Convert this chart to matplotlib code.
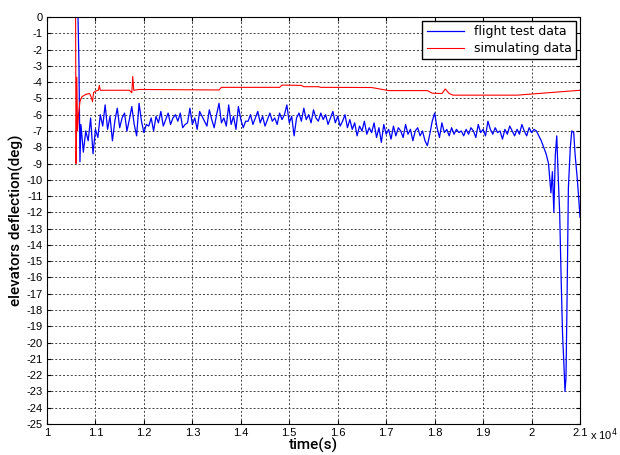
import matplotlib
matplotlib.use('Agg')
import matplotlib.pyplot as plt
import numpy as np
from matplotlib.ticker import FuncFormatter

plt.rcParams['axes.unicode_minus'] = False

# flight test data (blue): onset, regular 50 s samples, final dive
blue_t_start = [10640, 10660, 10680]
blue_v_start = [0.0, -3.0, -8.9]

blue_t_mid = np.arange(10700, 20301, 50)
blue_v_mid = [
    -6.6, -8.3, -7.0, -7.6, -6.2, -8.4, -6.9, -7.4, -6.0, -6.7, -5.4, -6.9, -6.1, -7.6, -6.4, -5.6, -6.8, -6.2, -5.9, -7.0,
    -6.3, -5.5, -6.6, -7.3, -5.3, -6.4, -7.1, -6.6, -6.7, -6.2, -7.0, -6.1, -6.5, -5.8, -6.7, -6.3, -5.9, -6.6, -6.2, -6.0,
    -6.4, -5.9, -6.8, -6.6, -6.5, -5.6, -6.6, -6.2, -6.9, -5.8, -6.1, -6.4, -6.7, -5.7, -6.3, -6.8, -6.0, -5.3, -6.5, -6.2,
    -6.7, -5.4, -6.6, -6.1, -6.9, -5.5, -6.3, -6.8, -6.4, -6.4, -6.0, -6.6, -6.2, -5.8, -6.5, -6.1, -6.7, -6.3, -5.9, -6.4,
    -6.2, -6.6, -5.9, -6.3, -6.0, -5.4, -6.5, -6.1, -7.3, -6.2, -5.9, -6.4, -5.6, -6.3, -6.0, -6.5, -5.7, -6.2, -6.4, -5.9,
    -6.3, -6.0, -6.6, -6.2, -5.8, -6.5, -6.1, -6.7, -6.4, -6.0, -6.8, -6.3, -6.9, -6.5, -7.3, -6.7, -7.0, -6.4, -7.2, -6.8,
    -7.1, -6.5, -7.4, -6.8, -7.7, -6.6, -7.2, -6.9, -7.5, -6.7, -7.3, -6.8, -7.0, -7.4, -6.6, -7.2, -6.9, -7.6, -7.0, -6.8,
    -7.3, -7.0, -7.6, -7.9, -7.2, -6.4, -5.9, -6.8, -7.4, -6.5, -7.1, -6.9, -7.3, -6.8, -7.2, -6.9, -7.1, -7.0, -7.3, -6.9,
    -7.2, -6.8, -7.0, -7.4, -6.6, -7.1, -6.9, -7.3, -6.4, -6.9, -7.2, -6.8, -7.1, -7.0, -7.5, -6.9, -7.2, -6.7, -7.0, -7.3,
    -6.9, -7.2, -6.6, -7.0, -7.3, -6.8, -7.1, -6.9, -7.0, -7.3, -7.6, -8.0, -8.4,
]

blue_t_end = [20350, 20400, 20430, 20460, 20490, 20520, 20550, 20580, 20610, 20640, 20670,
              20690, 20710, 20730, 20760, 20800, 20830, 20870, 20900, 20940, 20970, 21000]
blue_v_end = [-9.0, -10.8, -9.5, -12.0, -8.5, -7.3, -9.8, -12.0, -16.0, -19.5, -21.5,
              -23.0, -22.2, -18.0, -10.5, -8.0, -7.0, -7.1, -8.5, -9.8, -11.0, -12.3]

# simulating data (red)
red_t = [10000, 10590, 10600, 10615, 10630, 10650, 10680, 10720, 10800, 10880, 10910, 10940,
         10960, 11000, 11060, 11080, 11100, 11700, 11750, 11770, 11790, 11900, 13550, 13600,
         14800, 14850, 15250, 15300, 15600, 15650, 16700, 17050, 17850, 17950, 18150, 18220,
         18300, 18380, 19700, 21000]
red_v = [0.0, 0.0, -9.0, -3.7, -7.0, -6.0, -5.2, -4.9, -4.75, -4.7, -4.9, -5.2,
         -4.65, -4.55, -4.5, -4.2, -4.5, -4.5, -4.65, -3.65, -4.5, -4.45, -4.48, -4.32,
         -4.32, -4.18, -4.2, -4.28, -4.28, -4.32, -4.33, -4.52, -4.52, -4.68, -4.7, -4.42,
         -4.7, -4.8, -4.8, -4.5]

blue_t = np.concatenate([blue_t_start, blue_t_mid, blue_t_end])
blue_v = np.concatenate([blue_v_start, blue_v_mid, blue_v_end])

fig = plt.figure(figsize=(6.2, 4.55), dpi=100)
ax = fig.add_axes([0.0758, 0.0681, 0.8597, 0.8945])

ax.plot(blue_t, blue_v, color='#0000ff', lw=0.9, label='flight test data')
ax.plot(red_t, red_v, color='#ff0000', lw=0.8, label='simulating data')

ax.set_xlim(10000, 21000)
ax.set_ylim(-25, 0)
ax.set_xticks(np.arange(10000, 21001, 1000))
ax.set_yticks(np.arange(-25, 1, 1))
ax.xaxis.set_major_formatter(FuncFormatter(lambda v, p: f'{v / 1e4:g}'))
ax.tick_params(direction='in', top=True, right=True, labelsize=8, length=3, width=0.8, pad=3)
for lbl in ax.get_xticklabels() + ax.get_yticklabels():
    lbl.set_family('Liberation Sans')
ax.grid(True, linestyle=(0, (2, 2)), color='#444444', lw=0.7)
for s in ax.spines.values():
    s.set_linewidth(0.8)

ax.text(1.019, -0.027, 'x 10$^4$', transform=ax.transAxes, fontsize=8,
        va='center', ha='left', family='Liberation Sans')

ax.set_xlabel('time(s)', fontsize=11, labelpad=0, family='Roboto', fontweight='medium')
ax.set_ylabel('elevators deflection(deg)', fontsize=11, labelpad=2, family='Roboto',
              fontweight='medium')

ax.legend(loc='upper right', fontsize=9, fancybox=False, edgecolor='black',
          framealpha=1, borderaxespad=0.3, handlelength=3.0, borderpad=0.35,
          labelspacing=0.3)

plt.savefig('out.png', dpi=100)
